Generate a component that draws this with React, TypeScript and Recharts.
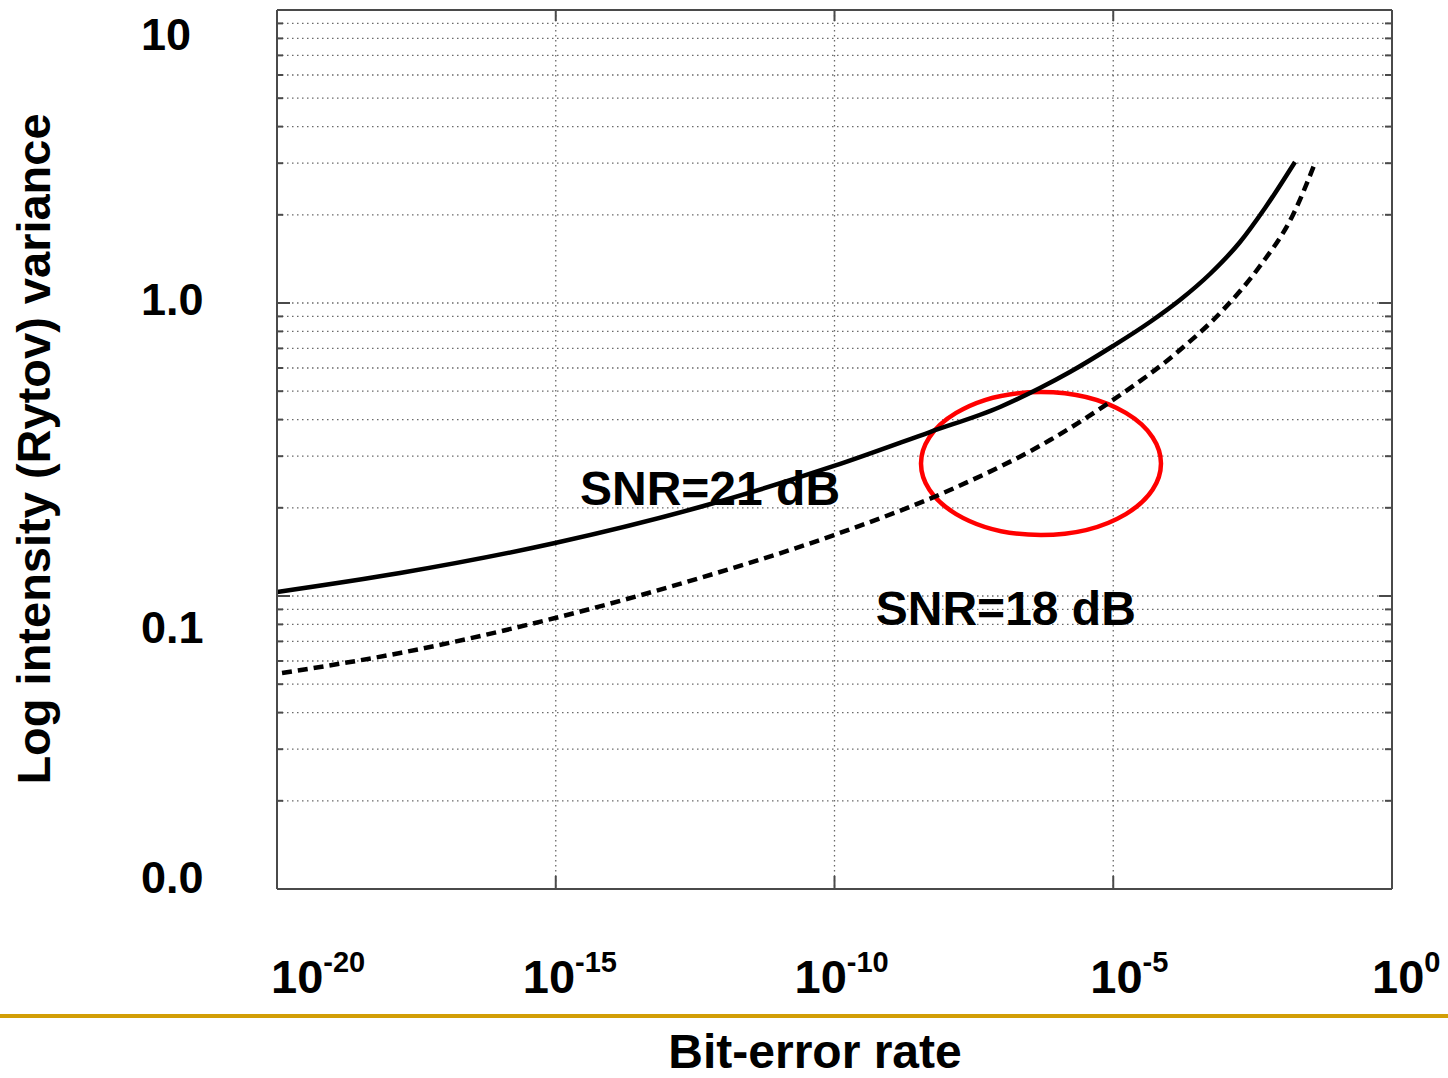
import {
  ComposedChart, Line, XAxis, YAxis, CartesianGrid, ReferenceArea, ReferenceDot,
} from 'recharts';

// ── data ─────────────────────────────────────────────────────────
const X_TICKS = [1e-20, 1e-15, 1e-10, 1e-5, 1];
const X_TICK_EXP = ['-20', '-15', '-10', '-5', '0'];

const Y_TICKS = [
  0.01, 0.02, 0.03, 0.04, 0.05, 0.06, 0.07, 0.08, 0.09,
  0.1, 0.2, 0.3, 0.4, 0.5, 0.6, 0.7, 0.8, 0.9,
  1, 2, 3, 4, 5, 6, 7, 8, 9, 10,
];
const Y_MAJOR = [0.01, 0.1, 1, 10];
const Y_MAJOR_LABELS = ['0.0', '0.1', '1.0', '10'];

// SNR = 21 dB (solid)
const SNR21_BER = [
  1e-20, 1.61e-18, 9.7e-16, 3.86e-13, 9.8e-11, 5.16e-9, 9.3e-8, 4.85e-7,
  1.67e-6, 9.9e-6, 4.56e-5, 1.57e-4, 5.43e-4, 1.88e-3, 5.28e-3, 1.82e-2,
];
const SNR21_VAR = [
  0.1032, 0.1198, 0.1517, 0.2012, 0.2778, 0.3628, 0.4417, 0.5127,
  0.5813, 0.7131, 0.8614, 1.024, 1.256, 1.615, 2.11, 3.03,
];

// SNR = 18 dB (dashed)
const SNR18_BER = [
  1.23e-20, 1.61e-18, 9.7e-16, 3.86e-13, 9.8e-11, 1.18e-8, 7.35e-7,
  9.9e-6, 1.57e-4, 9.3e-4, 4.28e-3, 1.67e-2, 4.16e-2,
];
const SNR18_VAR = [
  0.0546, 0.0639, 0.0841, 0.1152, 0.1615, 0.23, 0.3406,
  0.4667, 0.6911, 0.9465, 1.337, 1.997, 3.005,
];

// highlighted region (red ellipse bounding box)
const ELLIPSE_BER = [3.56e-9, 7.18e-5];
const ELLIPSE_VAR = [0.1615, 0.497];

// annotation anchors (left end of text baseline)
const ANNOTATIONS = [
  { ber: 2.72e-15, v: 0.2047, text: 'SNR=21 dB' },
  { ber: 5.5e-10, v: 0.0796, text: 'SNR=18 dB' },
];

const FONT = '"Liberation Sans", Arial, Helvetica, sans-serif';
const AXIS = '#4a4a4a';

// tick label nudges, matching the slide overlay
const Y_LABEL_DY = [4, 47, 12, 40];
const X_LABEL_DX = [-6, -33, -40, -23, -20];

function LeftTick(props: any) {
  const { x, y, payload } = props;
  const i = Y_MAJOR.indexOf(payload.value);
  const major = i >= 0;
  return (
    <g>
      <line x1={x} y1={y} x2={x + (major ? 13 : 6)} y2={y} stroke={AXIS} strokeWidth={2} />
      {major && (
        <text x={x - 136} y={y + Y_LABEL_DY[i]} fontFamily={FONT} fontWeight="bold" fontSize={45} fill="#000">
          {Y_MAJOR_LABELS[i]}
        </text>
      )}
    </g>
  );
}

function RightTick(props: any) {
  const { x, y, payload } = props;
  const major = Y_MAJOR.includes(payload.value);
  return <line x1={x} y1={y} x2={x - (major ? 13 : 7)} y2={y} stroke={AXIS} strokeWidth={2} />;
}

function BottomTick(props: any) {
  const { x, y, index } = props;
  return (
    <g>
      <line x1={x} y1={y} x2={x} y2={y - 13} stroke={AXIS} strokeWidth={2} />
      <text x={x + X_LABEL_DX[index]} y={y + 104} fontFamily={FONT} fontWeight="bold" fill="#000">
        <tspan fontSize={47}>10</tspan>
        <tspan fontSize={29} dy={-21}>{X_TICK_EXP[index]}</tspan>
      </text>
    </g>
  );
}

function TopTick(props: any) {
  const { x, y } = props;
  return <line x1={x} y1={y} x2={x} y2={y + 11} stroke={AXIS} strokeWidth={2} />;
}

function Annot(props: any) {
  const { viewBox, value } = props;
  return (
    <text x={viewBox.x} y={viewBox.y} fontFamily={FONT} fontWeight="bold" fontSize={48} fill="#000">
      {value}
    </text>
  );
}

export default function App() {
  const solid = SNR21_BER.map((ber, i) => ({ ber, v: SNR21_VAR[i] }));
  const dashed = SNR18_BER.map((ber, i) => ({ ber, v: SNR18_VAR[i] }));

  return (
    <div style={{ position: 'absolute', left: 0, top: 0, width: 1448, height: 1078, background: '#fff' }}>
      <ComposedChart width={1448} height={1078} margin={{ top: 5, right: 46, bottom: 179, left: 267 }}>
        <CartesianGrid stroke="#6a6a6a" strokeDasharray="1.5 3.5" strokeWidth={1.3} />
        <XAxis
          dataKey="ber" type="number" scale="log" domain={[1e-20, 1]} allowDataOverflow
          ticks={X_TICKS} height={10} tickSize={0} tickMargin={0} tickLine={false}
          axisLine={{ stroke: AXIS, strokeWidth: 2 }} tick={<BottomTick />} interval={0}
        />
        <XAxis
          xAxisId="top" orientation="top" dataKey="ber" type="number" scale="log" domain={[1e-20, 1]}
          allowDataOverflow ticks={X_TICKS} height={5} tickSize={0} tickMargin={0} tickLine={false}
          axisLine={{ stroke: AXIS, strokeWidth: 2 }} tick={<TopTick />} interval={0}
        />
        <YAxis
          type="number" scale="log" domain={[0.01, 10]} allowDataOverflow ticks={Y_TICKS}
          width={10} tickSize={0} tickMargin={0} tickLine={false} interval={0}
          axisLine={{ stroke: AXIS, strokeWidth: 2 }} tick={<LeftTick />}
        />
        <YAxis
          yAxisId="right" orientation="right" type="number" scale="log" domain={[0.01, 10]}
          allowDataOverflow ticks={Y_TICKS} width={10} tickSize={0} tickMargin={0} tickLine={false}
          interval={0} axisLine={{ stroke: AXIS, strokeWidth: 2 }} tick={<RightTick />}
        />
        <Line
          data={solid} dataKey="v" type="monotone" stroke="#000" strokeWidth={4.5}
          dot={false} isAnimationActive={false}
        />
        <Line
          data={dashed} dataKey="v" type="monotone" stroke="#000" strokeWidth={4.5}
          strokeDasharray="10 6" dot={false} isAnimationActive={false}
        />
        <ReferenceArea
          x1={ELLIPSE_BER[0]} x2={ELLIPSE_BER[1]} y1={ELLIPSE_VAR[0]} y2={ELLIPSE_VAR[1]}
          shape={(p: any) => (
            <ellipse
              cx={p.x + p.width / 2} cy={p.y + p.height / 2} rx={p.width / 2} ry={p.height / 2}
              fill="none" stroke="#ff0000" strokeWidth={4.5}
            />
          )}
        />
        {ANNOTATIONS.map(a => (
          <ReferenceDot
            key={a.text} x={a.ber} y={a.v} r={0} fill="none" stroke="none"
            label={{ value: a.text, content: Annot }}
          />
        ))}
      </ComposedChart>

      <svg
        width={1448} height={1078}
        style={{ position: 'absolute', left: 0, top: 0, pointerEvents: 'none' }}
      >
        <rect x={0} y={1014} width={1448} height={4} fill="#d29e06" />
        <text x={815} y={1068} textAnchor="middle" fontFamily={FONT} fontWeight="bold" fontSize={48} fill="#000">
          Bit-error rate
        </text>
        <text
          transform="translate(50 449) rotate(-90)" textAnchor="middle"
          fontFamily={FONT} fontWeight="bold" fontSize={47} fill="#000"
        >
          Log intensity (Rytov) variance
        </text>
      </svg>
    </div>
  );
}
